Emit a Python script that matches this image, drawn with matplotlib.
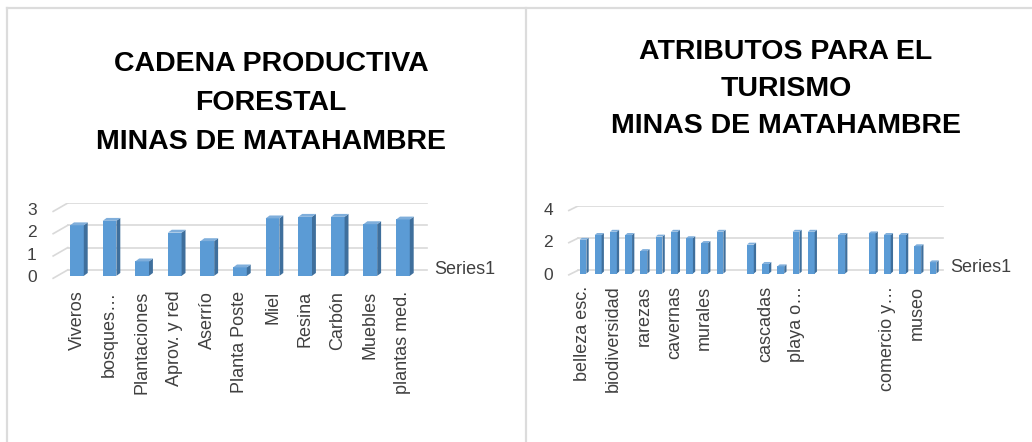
import matplotlib.pyplot as plt
from matplotlib.patches import Polygon
from matplotlib.lines import Line2D

plt.rcParams['font.family'] = ['Liberation Sans', 'DejaVu Sans']

# data
forest_labels = ["Viveros", "bosques…", "Plantaciones", "Aprov. y red", "Aserrío",
                 "Planta Poste", "Miel", "Resina", "Carbón", "Muebles", "plantas med."]
forest_values = [2.27, 2.47, 0.65, 1.94, 1.56, 0.38, 2.58, 2.65, 2.65, 2.32, 2.53]

tour_labels = ["belleza esc.", "", "biodiversidad", "", "rarezas", "", "cavernas", "",
               "murales", "", "", "", "cascadas", "", "playa o…", "", "", "", "", "",
               "comercio y…", "", "museo", ""]
tour_values = [2.1, 2.4, 2.6, 2.4, 1.4, 2.3, 2.6, 2.2, 1.9, 2.6, 0, 1.8,
               0.6, 0.45, 2.6, 2.6, 0, 2.4, 0, 2.5, 2.4, 2.4, 1.7, 0.7]

FRONT = '#5B9BD5'
SIDE = '#3F6F9C'
TOP = '#7FAEDB'
GRID = '#D9D9D9'
TXT = '#404040'

W, H = 1032, 442


def px_axes(fig, x0, x1, ybot, ytop):
    return fig.add_axes([x0 / W, (H - ybot) / H, (x1 - x0) / W, (ybot - ytop) / H])


def fake3d(ax, values, ticks, width, dx, bd, gd, gx0, gx1, diag):
    # back wall gridlines with short floor diagonal at the left
    for t in ticks:
        ax.plot([gx0, gx1], [t, t], color=GRID, lw=1.2, zorder=1)
        ax.plot([gx0 - diag, gx0], [t - gd * 1.4, t], color=GRID, lw=1.2, zorder=1)
    base = -gd
    for i, v in enumerate(values):
        if v <= 0:
            continue
        l, r = i - width / 2, i + width / 2
        top = base + v
        ax.bar(i, v, width=width, bottom=base, color=FRONT, zorder=3)
        ax.add_patch(Polygon([(r, base), (r + dx, base + bd), (r + dx, top + bd), (r, top)],
                             closed=True, color=SIDE, lw=0, zorder=3))
        ax.add_patch(Polygon([(l, top), (l + dx, top + bd), (r + dx, top + bd), (r, top)],
                             closed=True, color=TOP, lw=0, zorder=3))
    for s in ax.spines.values():
        s.set_visible(False)
    ax.tick_params(length=0)
    ax.set_yticks([t - gd for t in ticks], [str(t) for t in ticks], fontsize=12.5, color=TXT)


fig = plt.figure(figsize=(W / 100, H / 100), dpi=100)

# panel borders
for xs, ys in [([7, W], [8, 8]), ([7, 7], [8, H]), ([526, 526], [8, H])]:
    fig.add_artist(Line2D([x / W for x in xs], [(H - y) / H for y in ys],
                          color='#DCDCDC', lw=1.6))

# left chart
ax1 = px_axes(fig, 45, 430, 281, 203)
fake3d(ax1, forest_values, [0, 1, 2, 3], 0.42, 0.12, 0.13, 0.27, -0.28, 10.74, 0.45)
ax1.set_xlim(-0.98, 10.83)
ax1.set_ylim(-0.5, 3.0)
ax1.set_xticks(range(len(forest_values)), forest_labels, rotation=90, fontsize=13, color=TXT)
ax1.tick_params(axis='x', pad=7)
ax1.tick_params(axis='y', pad=6)
fig.text(434 / W, (H - 270) / H, "Series1", fontsize=13, color=TXT, va='center')
fig.text(271 / W, (H - 103) / H, "CADENA PRODUCTIVA\nFORESTAL\nMINAS DE MATAHAMBRE",
         ha='center', va='center', fontsize=20.5, fontweight='bold', linespacing=1.63)

# right chart
ax2 = px_axes(fig, 560, 945, 280, 206)
fake3d(ax2, tour_values, [0, 2, 4], 0.45, 0.15, 0.12, 0.2, -0.33, 23.66, 0.6)
ax2.set_xlim(-1.51, 23.79)
ax2.set_ylim(-0.6, 4.0)
ax2.set_xticks(range(len(tour_values)), tour_labels, rotation=90, fontsize=13, color=TXT)
ax2.tick_params(axis='x', pad=4)
ax2.tick_params(axis='y', pad=5)
fig.text(950 / W, (H - 268) / H, "Series1", fontsize=13, color=TXT, va='center')
fig.text(786 / W, (H - 89) / H, "ATRIBUTOS PARA EL\nTURISMO\nMINAS DE MATAHAMBRE",
         ha='center', va='center', fontsize=20.5, fontweight='bold', linespacing=1.57)

fig.savefig("out.png", dpi=100)
